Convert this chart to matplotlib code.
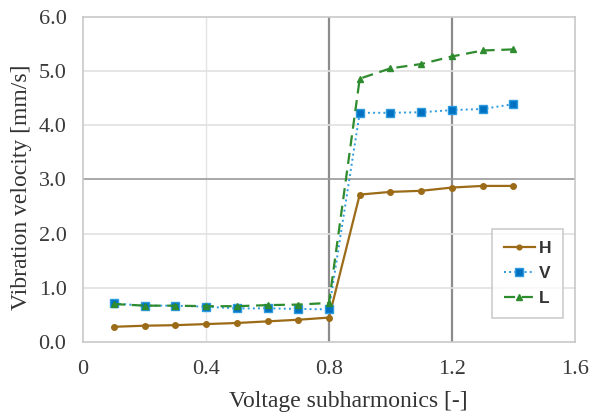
import matplotlib
matplotlib.use('Agg')
import matplotlib.pyplot as plt

# subharmonic order and measured velocity per direction
subharmonic = [0.1, 0.2, 0.3, 0.4, 0.5, 0.6, 0.7, 0.8, 0.9, 1.0, 1.1, 1.2, 1.3, 1.4]
vel_H = [0.28, 0.30, 0.31, 0.33, 0.35, 0.38, 0.41, 0.45, 2.72, 2.77, 2.79, 2.85, 2.88, 2.88]
vel_V = [0.71, 0.67, 0.67, 0.65, 0.62, 0.62, 0.61, 0.60, 4.23, 4.23, 4.24, 4.28, 4.30, 4.39]
vel_L = [0.70, 0.67, 0.67, 0.66, 0.66, 0.68, 0.69, 0.72, 4.86, 5.05, 5.13, 5.27, 5.38, 5.40]

x_ticks = [0, 0.4, 0.8, 1.2, 1.6]
x_ticklabels = ['0', '0.4', '0.8', '1.2', '1.6']
y_ticks = [0, 1, 2, 3, 4, 5, 6]

serif = 'Liberation Serif'

fig = plt.figure(figsize=(6.07, 4.12), dpi=100)
ax = fig.add_axes([0.137, 0.170, 0.810, 0.789])

# gridlines: light ones and a few darker ones
for xv in x_ticks[1:-1]:
    dark = xv in (0.8, 1.2)
    ax.axvline(xv, color='#8c8c8c' if dark else '#e4e4e4', lw=1.6 if dark else 1.0, zorder=0)
for yv in y_ticks[1:-1]:
    dark = yv == 3
    ax.axhline(yv, color='#9a9a9a' if dark else '#e0e0e0', lw=1.2, zorder=0)

ax.plot(subharmonic, vel_H, color='#9C6B17', lw=1.6, marker='o', ms=4, label='H', zorder=3)
ax.plot(subharmonic, vel_V, color='#2E9BE0', lw=1.4, ls=':', marker='s', ms=6,
        mfc='#0070C0', mec='#2E9BE0', label='V', zorder=4)
ax.plot(subharmonic, vel_L, color='#2E8B2E', lw=1.6, ls=(0, (5, 3)), marker='^', ms=5,
        mfc='#2E8B2E', mec='#2E8B2E', label='L', zorder=5)

ax.set_xlim(0, 1.6)
ax.set_ylim(0, 6)
ax.set_xticks(x_ticks)
ax.set_xticklabels(x_ticklabels)
ax.set_yticks(y_ticks)
ax.set_yticklabels(['%.1f' % v for v in y_ticks])
ax.tick_params(length=0, labelsize=16, labelcolor='#3a3a3a')
ax.tick_params(axis='x', pad=13)
ax.tick_params(axis='y', pad=12)
for lbl in ax.get_xticklabels() + ax.get_yticklabels():
    lbl.set_family(serif)
for sp in ax.spines.values():
    sp.set_color('#c8c8c8')
    sp.set_linewidth(1.2)

ax.set_xlabel('Voltage subharmonics [-]', family=serif, fontsize=17, color='#333333')
ax.set_ylabel('Vibration velocity [mm/s]', family=serif, fontsize=17, color='#333333')
ax.xaxis.set_label_coords(0.539, -0.151)
ax.yaxis.set_label_coords(-0.104, 0.475)

leg = ax.legend(loc='lower right', bbox_to_anchor=(0.976, 0.074), borderaxespad=0,
                frameon=True, fancybox=False,
                handlelength=1.8, handletextpad=0.2, labelspacing=0.55, borderpad=0.7,
                markerscale=0.85,
                prop={'family': 'Liberation Sans', 'size': 12.5, 'weight': 'bold'})
leg.get_frame().set_edgecolor('#c0c0c0')
leg.get_frame().set_linewidth(1.2)
for t in leg.get_texts():
    t.set_color('#333333')

fig.savefig('out.png', dpi=100, facecolor='white')
